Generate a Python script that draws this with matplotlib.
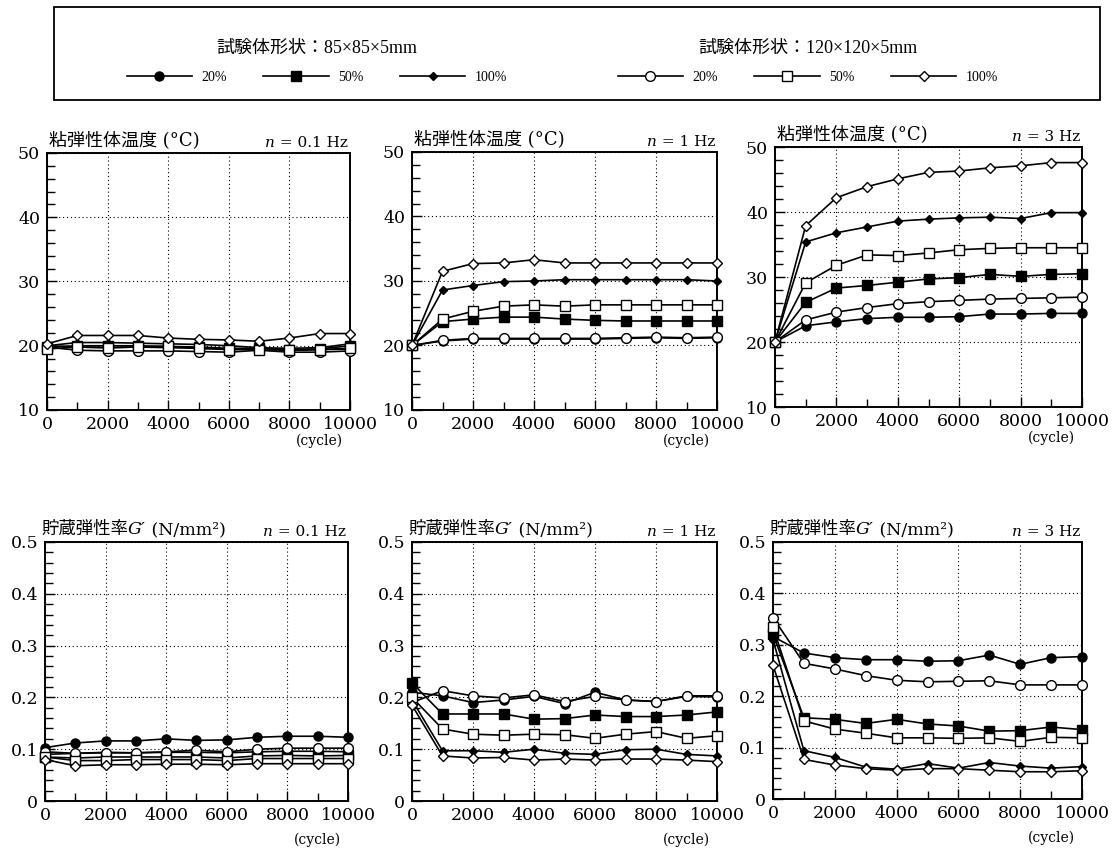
import matplotlib
matplotlib.use("Agg")
import matplotlib.pyplot as plt
from matplotlib.ticker import MultipleLocator, FuncFormatter
from matplotlib.patches import Rectangle

plt.rcParams['font.family'] = ['DejaVu Serif', 'Noto Sans CJK JP']

# ---------------- data ----------------
cycles = [0, 1000, 2000, 3000, 4000, 5000, 6000, 7000, 8000, 9000, 10000]

series_labels = ['20%', '50%', '100%', '20%', '50%', '100%']
legend_title_small = '試験体形状：85×85×5mm'
legend_title_large = '試験体形状：120×120×5mm'

freq_labels = ['0.1', '1', '3']
temp_title = '粘弾性体温度 (°C)'
mod_title_cjk = '貯蔵弾性率'
x_unit = '(cycle)'

# Temperature (°C); order: 85mm 20/50/100, 120mm 20/50/100
temp_01Hz = [
    [20.0, 19.8, 19.7, 19.8, 19.7, 19.6, 19.5, 19.5, 19.3, 19.4, 19.5],
    [19.8, 20.0, 20.0, 20.0, 19.9, 19.8, 19.6, 19.6, 19.4, 19.5, 20.0],
    [20.0, 20.5, 20.5, 20.4, 20.3, 20.2, 20.0, 19.7, 19.6, 19.7, 20.3],
    [19.8, 19.3, 19.2, 19.2, 19.2, 19.1, 19.0, 19.3, 19.0, 19.0, 19.2],
    [19.5, 19.8, 19.7, 19.8, 19.9, 19.6, 19.4, 19.4, 19.3, 19.4, 19.6],
    [20.3, 21.6, 21.6, 21.6, 21.2, 21.0, 20.9, 20.7, 21.2, 21.9, 21.9],
]
temp_1Hz = [
    [20.0, 20.7, 21.0, 21.0, 21.0, 21.0, 21.0, 21.1, 21.2, 21.1, 21.2],
    [20.0, 23.7, 24.1, 24.4, 24.4, 24.1, 23.9, 23.8, 23.8, 23.8, 23.8],
    [20.0, 28.6, 29.3, 29.9, 30.0, 30.2, 30.2, 30.2, 30.2, 30.2, 30.0],
    [20.0, 20.8, 21.1, 21.1, 21.1, 21.1, 21.1, 21.2, 21.3, 21.2, 21.3],
    [20.0, 24.1, 25.3, 26.1, 26.3, 26.1, 26.3, 26.3, 26.3, 26.3, 26.3],
    [20.0, 31.5, 32.7, 32.8, 33.3, 32.8, 32.8, 32.8, 32.8, 32.8, 32.8],
]
temp_3Hz = [
    [20.0, 22.5, 23.1, 23.6, 23.8, 23.8, 23.9, 24.3, 24.3, 24.4, 24.4],
    [20.0, 26.1, 28.3, 28.7, 29.2, 29.7, 29.9, 30.4, 30.1, 30.4, 30.5],
    [20.0, 35.4, 36.8, 37.7, 38.6, 38.9, 39.1, 39.2, 39.0, 39.9, 39.9],
    [20.0, 23.4, 24.6, 25.3, 25.9, 26.2, 26.4, 26.6, 26.7, 26.8, 26.9],
    [20.0, 29.1, 31.8, 33.4, 33.3, 33.7, 34.2, 34.4, 34.5, 34.5, 34.5],
    [20.0, 37.9, 42.2, 43.9, 45.1, 46.1, 46.3, 46.8, 47.1, 47.6, 47.6],
]

# Storage modulus G' (N/mm2)
mod_01Hz = [
    [0.103, 0.112, 0.116, 0.116, 0.120, 0.117, 0.118, 0.123, 0.125, 0.125, 0.123],
    [0.085, 0.083, 0.085, 0.085, 0.085, 0.085, 0.083, 0.087, 0.088, 0.087, 0.088],
    [0.090, 0.092, 0.094, 0.093, 0.094, 0.094, 0.093, 0.095, 0.096, 0.096, 0.095],
    [0.095, 0.092, 0.093, 0.093, 0.095, 0.098, 0.095, 0.100, 0.102, 0.102, 0.102],
    [0.085, 0.078, 0.078, 0.080, 0.080, 0.080, 0.078, 0.082, 0.082, 0.082, 0.082],
    [0.080, 0.068, 0.070, 0.070, 0.071, 0.071, 0.070, 0.072, 0.072, 0.072, 0.072],
]
mod_1Hz = [
    [0.210, 0.203, 0.190, 0.195, 0.202, 0.188, 0.210, 0.195, 0.192, 0.202, 0.201],
    [0.228, 0.168, 0.168, 0.168, 0.158, 0.159, 0.166, 0.163, 0.163, 0.166, 0.172],
    [0.195, 0.097, 0.097, 0.094, 0.100, 0.092, 0.090, 0.099, 0.100, 0.090, 0.087],
    [0.190, 0.213, 0.203, 0.199, 0.205, 0.192, 0.202, 0.195, 0.192, 0.203, 0.203],
    [0.200, 0.139, 0.129, 0.127, 0.129, 0.128, 0.121, 0.129, 0.134, 0.121, 0.126],
    [0.185, 0.087, 0.083, 0.084, 0.079, 0.081, 0.079, 0.081, 0.081, 0.079, 0.076],
]
mod_3Hz = [
    [0.316, 0.284, 0.275, 0.271, 0.271, 0.268, 0.269, 0.280, 0.262, 0.275, 0.277],
    [0.321, 0.158, 0.155, 0.147, 0.155, 0.146, 0.142, 0.132, 0.133, 0.140, 0.135],
    [0.310, 0.094, 0.081, 0.062, 0.058, 0.069, 0.060, 0.071, 0.064, 0.060, 0.063],
    [0.353, 0.264, 0.253, 0.240, 0.231, 0.228, 0.229, 0.230, 0.222, 0.222, 0.222],
    [0.334, 0.152, 0.136, 0.128, 0.119, 0.119, 0.118, 0.119, 0.112, 0.120, 0.119],
    [0.260, 0.077, 0.066, 0.059, 0.056, 0.059, 0.059, 0.056, 0.053, 0.053, 0.055],
]

# ---------------- styles ----------------
styles = [
    dict(marker='o', ms=6.5, mfc='black'),
    dict(marker='s', ms=6.5, mfc='black'),
    dict(marker='D', ms=4.5, mfc='black'),
    dict(marker='o', ms=7, mfc='white'),
    dict(marker='s', ms=7, mfc='white'),
    dict(marker='D', ms=5, mfc='white'),
]

W, H = 1114, 852
fig = plt.figure(figsize=(W / 100, H / 100), dpi=100)


def add_ax(x0, y0, x1, y1):
    return fig.add_axes([x0 / W, 1 - y1 / H, (x1 - x0) / W, (y1 - y0) / H])


boxes = [
    (47, 153, 350, 410), (412, 152, 717, 410), (775, 147, 1082, 407),
    (45, 542, 348, 801), (412, 542, 717, 801), (773, 542, 1082, 799),
]
datasets = [temp_01Hz, temp_1Hz, temp_3Hz, mod_01Hz, mod_1Hz, mod_3Hz]

axes = []
for i, (box, data) in enumerate(zip(boxes, datasets)):
    ax = add_ax(*box)
    axes.append(ax)
    for vals, st in zip(data, styles):
        ax.plot(cycles, vals, color='black', lw=1.2, mec='black', mew=1.0,
                clip_on=False, zorder=3, **st)
    ax.set_xlim(0, 10000)
    ax.set_xticks([0, 2000, 4000, 6000, 8000, 10000])
    ax.xaxis.set_minor_locator(MultipleLocator(1000))
    if i < 3:
        ax.set_ylim(10, 50)
        ax.set_yticks([10, 20, 30, 40, 50])
        ax.yaxis.set_minor_locator(MultipleLocator(2))
    else:
        ax.set_ylim(0, 0.5)
        ax.set_yticks([0, 0.1, 0.2, 0.3, 0.4, 0.5])
        ax.yaxis.set_minor_locator(MultipleLocator(0.02))
        ax.yaxis.set_major_formatter(FuncFormatter(lambda v, p: '0' if abs(v) < 1e-9 else f'{v:.1f}'))
    ax.tick_params(which='both', direction='in', top=False, right=False,
                   labelsize=12.5, width=1.0, colors='black')
    ax.tick_params(axis='y', pad=5)
    ax.tick_params(axis='x', pad=4)
    ax.tick_params(which='major', length=7)
    ax.tick_params(which='minor', length=6)
    ax.grid(True, which='major', color='black', linestyle=(0, (1, 2.5)), linewidth=0.8)
    for sp in ax.spines.values():
        sp.set_linewidth(1.4)
        sp.set_color('black')

    # panel titles
    if i < 3:
        ax.annotate(temp_title, xy=(0, 1), xycoords='axes fraction', xytext=(2, 4),
                    textcoords='offset pixels', ha='left', va='bottom', fontsize=13)
    else:
        t1 = ax.annotate(mod_title_cjk, xy=(0, 1), xycoords='axes fraction', xytext=(-4, 4),
                         textcoords='offset pixels', ha='left', va='bottom', fontsize=12.5)
        t2 = ax.annotate('G′', xy=(1, 0), xycoords=t1, ha='left', va='bottom',
                         fontsize=12.5, style='italic')
        ax.annotate(' (N/mm²)', xy=(1, 0), xycoords=t2, ha='left', va='bottom',
                    fontsize=12.5)
    f = freq_labels[i % 3]
    tr = ax.annotate(f' = {f} Hz', xy=(1, 1), xycoords='axes fraction', xytext=(-2, 3),
                     textcoords='offset pixels', ha='right', va='bottom', fontsize=11)
    ax.annotate('n', xy=(0, 0), xycoords=tr, ha='right', va='bottom', fontsize=11,
                style='italic')

    off = -31 if i < 3 else -39
    ax.annotate(x_unit, xy=(1, 0), xycoords='axes fraction', xytext=(-7, off),
                textcoords='offset pixels', ha='right', va='center', fontsize=10)

# ---------------- legend ----------------
lines = axes[0].get_lines()
leg_kw = dict(ncol=3, frameon=False, handlelength=4.7, handletextpad=0.7,
              columnspacing=2.6, borderaxespad=0, loc='center',
              prop=dict(family=['Liberation Serif', 'Noto Sans CJK JP'], size=10))
leg1 = fig.legend(lines[:3], series_labels[:3], title=legend_title_small,
                  bbox_to_anchor=(317 / W, 1 - 62 / H), **leg_kw)
leg2 = fig.legend(lines[3:], series_labels[3:], title=legend_title_large,
                  bbox_to_anchor=(808 / W, 1 - 62 / H), **leg_kw)
for lg in (leg1, leg2):
    lg.get_title().set_fontproperties(dict(family=['Liberation Serif', 'Noto Sans CJK JP'], size=13))
    lg._legend_box.sep = 10

fig.patches.append(Rectangle((54 / W, 1 - 100 / H), (1100 - 54) / W, 93 / H,
                             transform=fig.transFigure, fill=False, lw=1.3, ec='black'))

fig.savefig('out.png', dpi=100, facecolor='white')
